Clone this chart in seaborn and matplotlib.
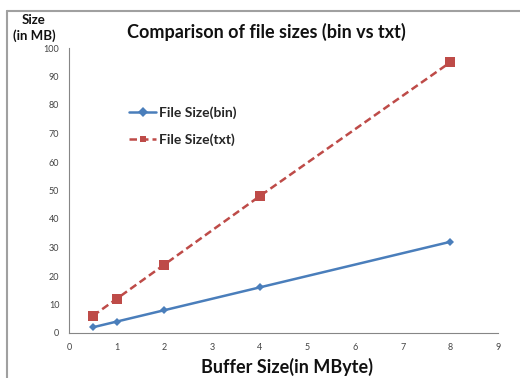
import matplotlib
matplotlib.use("Agg")
import matplotlib.pyplot as plt
import seaborn as sns
import pandas as pd
from matplotlib.lines import Line2D

buffer_sizes = [0.5, 1, 2, 4, 8]
size_bin = [2, 4, 8, 16, 32]
size_txt = [6, 12, 24, 48, 95]
series_names = ["File Size(bin)", "File Size(txt)"]
x_ticks = list(range(0, 10))
y_ticks = list(range(0, 101, 10))

sns.set_theme(style="white")
plt.rcParams['font.family'] = ['Lato', 'DejaVu Sans']

df = pd.DataFrame({
    "buffer": buffer_sizes * 2,
    "size": size_bin + size_txt,
    "series": [series_names[0]] * len(size_bin) + [series_names[1]] * len(size_txt),
})

fig = plt.figure(figsize=(5.2, 3.78), dpi=100)
ax = fig.add_axes([69/520, 1-333/378, (498-69)/520, (333-48)/378])

blue = "#4A7EBB"
red = "#BE4B48"
sns.lineplot(data=df, x="buffer", y="size", hue="series", style="series",
             palette=[blue, red], markers=["D", "s"], dashes=[(None, None), (3, 1.6)],
             markersize=5, linewidth=1.8, ax=ax, legend=True)
for l in ax.lines:
    l.set_markeredgewidth(0)
ax.lines[0].set_markersize(4.5)
ax.lines[1].set_markersize(6.5)

ax.set_xlim(0, 9)
ax.set_ylim(0, 100)
ax.set_xticks(x_ticks)
ax.set_yticks(y_ticks)
ax.tick_params(axis="both", labelsize=6.5, colors="#868686",
               length=3, width=0.8, direction="out", pad=4)
ax.tick_params(axis="both", labelcolor="#444444")
for s in ["top", "right"]:
    ax.spines[s].set_visible(False)
for s in ["left", "bottom"]:
    ax.spines[s].set_color("#868686")
    ax.spines[s].set_linewidth(0.8)
ax.set_xlabel("")
ax.set_ylabel("")

leg = ax.legend(loc="upper left", bbox_to_anchor=(0.11, 0.84), frameon=False,
                prop={"weight": "bold", "size": 10}, handlelength=2.0,
                labelspacing=1.05, handletextpad=0.2)

fig.text(266/520, 1-32/378, "Comparison of file sizes (bin vs txt)",
         ha="center", va="center", fontsize=13, fontweight="bold", color="#111111")
fig.text(34/520, 1-28/378, "Size\n(in MB)", ha="center", va="center",
         fontsize=9.5, fontweight="bold", color="#111111", linespacing=1.25)
fig.text(287/520, 1-367/378, "Buffer Size(in MByte)", ha="center", va="center",
         fontsize=13, fontweight="bold", color="#111111")

fig.add_artist(Line2D([7/520, 7/520], [0, 1-11/378], transform=fig.transFigure,
                      color="#A0A0A0", linewidth=1.5))
fig.add_artist(Line2D([7/520, 1], [1-11/378, 1-11/378], transform=fig.transFigure,
                      color="#A0A0A0", linewidth=1.5))

fig.savefig("out.png", dpi=100)
